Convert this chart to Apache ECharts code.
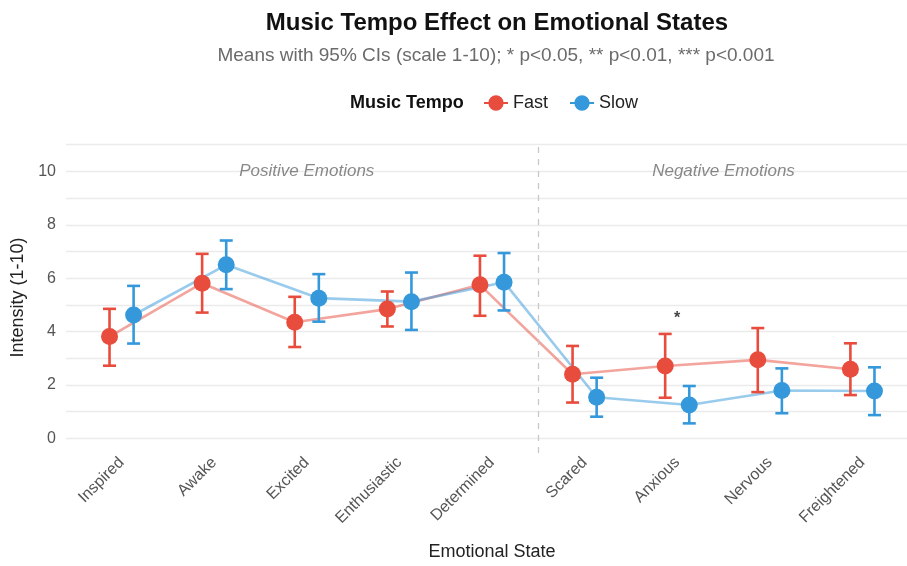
<!DOCTYPE html>
<html>
<head>
<meta charset="utf-8">
<script src="https://cdn.jsdelivr.net/npm/echarts@6/dist/echarts.min.js"></script>
<style>
  html, body { margin: 0; padding: 0; background: #fff; }
  #chart { width: 907px; height: 566px; }
</style>
</head>
<body>
<div id="chart"></div>
<script>
// categories on the x axis
const categories = ['Inspired', 'Awake', 'Excited', 'Enthusiastic', 'Determined',
  'Scared', 'Anxious', 'Nervous', 'Freightened']

// means and 95% CI bounds
const fastMean = [3.81, 5.81, 4.35, 4.84, 5.75, 2.40, 2.71, 2.94, 2.59]
const fastLow  = [2.72, 4.71, 3.42, 4.19, 4.59, 1.34, 1.52, 1.73, 1.62]
const fastHigh = [4.85, 6.91, 5.30, 5.50, 6.84, 3.46, 3.91, 4.13, 3.56]

const slowMean = [4.62, 6.50, 5.25, 5.12, 5.85, 1.54, 1.25, 1.79, 1.77]
const slowLow  = [3.55, 5.59, 4.37, 4.06, 4.79, 0.81, 0.56, 0.94, 0.87]
const slowHigh = [5.71, 7.41, 6.15, 6.21, 6.94, 2.27, 1.96, 2.62, 2.66]

// significance marks: [category index, y, text]
const sigMarks = [[6, 4.59, '*']]

// section labels: [x position, y, text]
const sectionLabels = [[2, 10, 'Positive Emotions'], [6.5, 10, 'Negative Emotions']]
const sectionDivider = 4.5

const yTicks = [0, 1, 2, 3, 4, 5, 6, 7, 8, 9, 10, 11]
const yLabels = [0, 2, 4, 6, 8, 10]

const FAST = '#E74C3C'
const SLOW = '#3498DB'
const dodge = 0.13

const toPoints = (vals, off) => vals.map((v, i) => [i + off, v])
const toBars = (lo, hi, off) => lo.map((l, i) => [i + off, l, hi[i]])

function errorBar(color) {
  return function (params, api) {
    const x = api.value(0)
    const lo = api.coord([x, api.value(1)])
    const hi = api.coord([x, api.value(2)])
    const cap = 6.5
    const style = { stroke: color, lineWidth: 2.6 }
    return {
      type: 'group',
      children: [
        { type: 'line', shape: { x1: lo[0], y1: lo[1], x2: hi[0], y2: hi[1] }, style },
        { type: 'line', shape: { x1: lo[0] - cap, y1: lo[1], x2: lo[0] + cap, y2: lo[1] }, style },
        { type: 'line', shape: { x1: hi[0] - cap, y1: hi[1], x2: hi[0] + cap, y2: hi[1] }, style }
      ]
    }
  }
}

// legend glyph: point with a short line through it
const pointRangeIcon = 'path://M0 8.1H22V9.9H0Z M11 2A7 7 0 1 1 10.99 2Z'

const chart = echarts.init(document.getElementById('chart'))

chart.setOption({
  animation: false,
  textStyle: { fontFamily: 'Liberation Sans, Arial, sans-serif' },
  title: [
    {
      text: 'Music Tempo Effect on Emotional States',
      left: 492, top: 6, textAlign: 'center',
      textStyle: { fontSize: 24, fontWeight: 'bold', color: '#111' }
    },
    {
      text: 'Means with 95% CIs (scale 1-10); * p<0.05, ** p<0.01, *** p<0.001',
      left: 491, top: 41, textAlign: 'center',
      textStyle: { fontSize: 19, fontWeight: 'normal', color: '#6b6b6b' }
    },
    {
      text: 'Music Tempo',
      left: 345, top: 89,
      textStyle: { fontSize: 18, fontWeight: 'bold', color: '#111' }
    }
  ],
  legend: {
    data: [
      { name: 'Fast', icon: pointRangeIcon },
      { name: 'Slow', icon: pointRangeIcon }
    ],
    left: 479, top: 89,
    itemWidth: 24, itemHeight: 19, itemGap: 22,
    textStyle: { fontSize: 18, color: '#222' }
  },
  grid: { left: 66, top: 142, width: 852, height: 311, outerBoundsMode: 'none' },
  xAxis: {
    type: 'value',
    min: -0.6, max: 8.6,
    name: 'Emotional State',
    nameLocation: 'middle',
    nameGap: 90,
    nameTextStyle: { fontSize: 18, color: '#222' },
    axisLine: { show: false },
    axisTick: { show: false },
    splitLine: { show: false },
    axisLabel: {
      customValues: categories.map((c, i) => i),
      formatter: v => categories[Math.round(v)],
      rotate: 45,
      margin: 7,
      fontSize: 16,
      color: '#555'
    }
  },
  yAxis: {
    type: 'value',
    min: -0.55, max: 11.1,
    name: 'Intensity (1-10)',
    nameLocation: 'middle',
    nameGap: 34,
    nameTextStyle: { fontSize: 18, color: '#222' },
    axisLine: { show: false },
    axisTick: { show: false, customValues: yTicks },
    axisLabel: { customValues: yLabels, fontSize: 16, color: '#555', margin: 10 },
    splitLine: { show: true, lineStyle: { color: '#ebebeb', width: 1.3 } }
  },
  series: [
    {
      name: 'Fast line', type: 'line', data: toPoints(fastMean, -dodge),
      showSymbol: false, silent: true, z: 1,
      lineStyle: { color: FAST, width: 2.6, opacity: 0.5 },
      markLine: {
        silent: true, symbol: 'none', label: { show: false },
        lineStyle: { color: '#c8c8c8', type: [6, 6], width: 1.3 },
        data: [{ xAxis: sectionDivider }]
      }
    },
    {
      name: 'Slow line', type: 'line', data: toPoints(slowMean, dodge),
      showSymbol: false, silent: true, z: 1,
      lineStyle: { color: SLOW, width: 2.6, opacity: 0.5 }
    },
    {
      name: 'Fast bars', type: 'custom', data: toBars(fastLow, fastHigh, -dodge),
      renderItem: errorBar(FAST), z: 2, silent: true
    },
    {
      name: 'Slow bars', type: 'custom', data: toBars(slowLow, slowHigh, dodge),
      renderItem: errorBar(SLOW), z: 2, silent: true
    },
    {
      name: 'Fast', type: 'scatter', data: toPoints(fastMean, -dodge),
      symbolSize: 17, itemStyle: { color: FAST, opacity: 1 }, z: 3
    },
    {
      name: 'Slow', type: 'scatter', data: toPoints(slowMean, dodge),
      symbolSize: 17, itemStyle: { color: SLOW, opacity: 1 }, z: 3
    },
    {
      name: 'sections', type: 'scatter', silent: true, symbolSize: 0, z: 4,
      data: sectionLabels.map(d => ({ value: [d[0], d[1]], label: { formatter: d[2] } })),
      label: { show: true, position: 'inside', fontSize: 17, fontStyle: 'italic', color: '#6b6b6b' }
    },
    {
      name: 'sig', type: 'scatter', silent: true, symbolSize: 0, z: 4,
      data: sigMarks.map(d => ({ value: [d[0], d[1]], label: { formatter: d[2] } })),
      label: { show: true, position: 'inside', fontSize: 16, fontWeight: 'bold', color: '#111', offset: [0, 3] }
    }
  ]
})
</script>
</body>
</html>
